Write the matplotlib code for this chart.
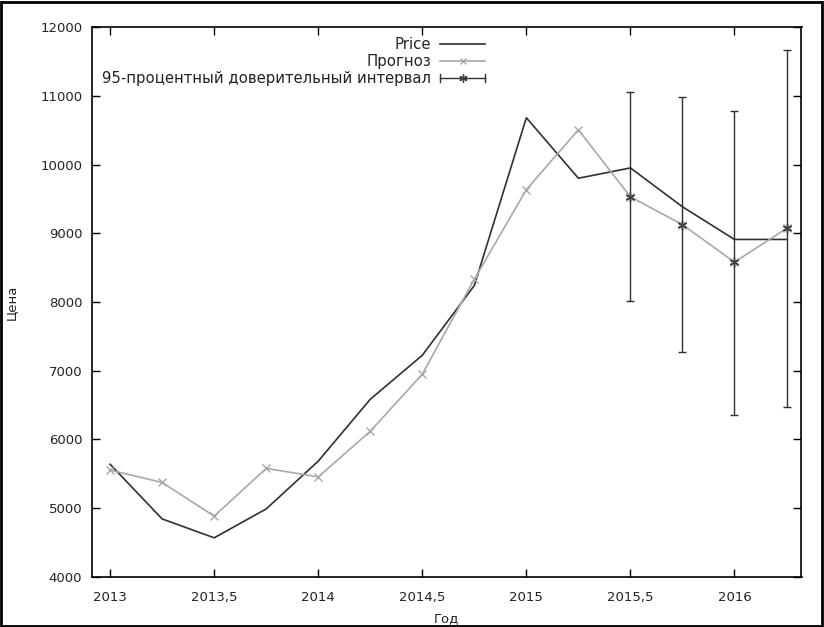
import matplotlib.pyplot as plt
from matplotlib.ticker import FuncFormatter
from matplotlib.patches import Rectangle
from matplotlib.lines import Line2D
from matplotlib.legend_handler import HandlerBase

# данные
quarters = [2013, 2013.25, 2013.5, 2013.75, 2014, 2014.25, 2014.5, 2014.75,
            2015, 2015.25, 2015.5, 2015.75, 2016, 2016.25]
price = [5640, 4845, 4570, 4990, 5685, 6585, 7225, 8240,
         10680, 9800, 9950, 9385, 8910, 8910]
forecast = [5555, 5375, 4885, 5580, 5455, 6120, 6950, 8330,
            9635, 10505, 9530, 9125, 8580, 9070]

ci_x = [2015.5, 2015.75, 2016, 2016.25]
ci_y = [9530, 9125, 8580, 9070]
ci_low = [8010, 7270, 6355, 6470]
ci_high = [11060, 10975, 10780, 11670]

plt.rcParams['font.family'] = ['DejaVu Sans']
plt.rcParams['font.size'] = 9.5


class HandlerCI(HandlerBase):
    # gnuplot-like errorbar key: |--*--|
    def create_artists(self, legend, orig_handle, xdescent, ydescent,
                       width, height, fontsize, trans):
        y = height / 2 - ydescent
        x0, x1 = -xdescent, width - xdescent
        c = '#303030'
        line = Line2D([x0, x1], [y, y], color=c, lw=1.0, transform=trans)
        cap0 = Line2D([x0, x0], [y - 3, y + 3], color=c, lw=1.0, transform=trans)
        cap1 = Line2D([x1, x1], [y - 3, y + 3], color=c, lw=1.0, transform=trans)
        star = Line2D([(x0 + x1) / 2], [y], ls='none', marker=(6, 2, 0), ms=6,
                      mew=1.0, color='#404040', transform=trans)
        return [line, cap0, cap1, star]


fig = plt.figure(figsize=(8.24, 6.27), dpi=100)
ax = fig.add_axes([92 / 824, 1 - 577 / 627, (801.5 - 92) / 824, (577 - 27) / 627])

ax.plot(quarters, price, color='#303030', lw=1.2)
ax.plot(quarters, forecast, color='#a8a8a8', lw=1.2, marker='x', ms=6, mew=1.0)
yerr = [[c - l for c, l in zip(ci_y, ci_low)], [h - c for c, h in zip(ci_y, ci_high)]]
ax.errorbar(ci_x, ci_y, yerr=yerr, fmt='none', ecolor='#303030', elinewidth=1.0,
            capsize=3, capthick=1.0)
ax.plot(ci_x, ci_y, ls='none', marker=(6, 2, 0), ms=7, mew=1.0, color='#404040')

ax.set_xlim(2012.913, 2016.322)
ax.set_ylim(4000, 12000)
ax.set_xticks([2013, 2013.5, 2014, 2014.5, 2015, 2015.5, 2016])
ax.set_yticks(range(4000, 12001, 1000))
ax.xaxis.set_major_formatter(FuncFormatter(lambda v, p: ('%g' % v).replace('.', ',')))
ax.tick_params(direction='in', top=True, right=True, length=6, width=1.0,
               colors='#000000', labelcolor='#222222', pad=7)
ax.tick_params(axis='x', pad=10)
for s in ax.spines.values():
    s.set_linewidth(1.2)

ax.set_xlabel('Год', labelpad=6, color='#222222')
ax.set_ylabel('Цена', labelpad=16, color='#222222')

# легенда в стиле gnuplot
h_price = Line2D([], [], color='#303030', lw=1.2)
h_fc = Line2D([], [], color='#a8a8a8', lw=1.2, marker='x', ms=5)
h_ci = object()
ax.legend([h_price, h_fc, h_ci],
          ['Price', 'Прогноз', '95-процентный доверительный интервал'],
          handler_map={h_ci: HandlerCI()},
          loc='upper right', bbox_to_anchor=(0.0, 0.0, (485 - 92) / 709.5, 0.982),
          markerfirst=False, frameon=False, handlelength=3.0, handletextpad=0.6,
          labelspacing=0.15, borderaxespad=0.0, borderpad=0.0, alignment='right',
          fontsize=10.7, labelcolor='#222222')

fig.patches.append(Rectangle((0.0015, 0.002), 0.996, 0.995, transform=fig.transFigure,
                             fill=False, ec='black', lw=2))

fig.savefig('out.png', dpi=100)
